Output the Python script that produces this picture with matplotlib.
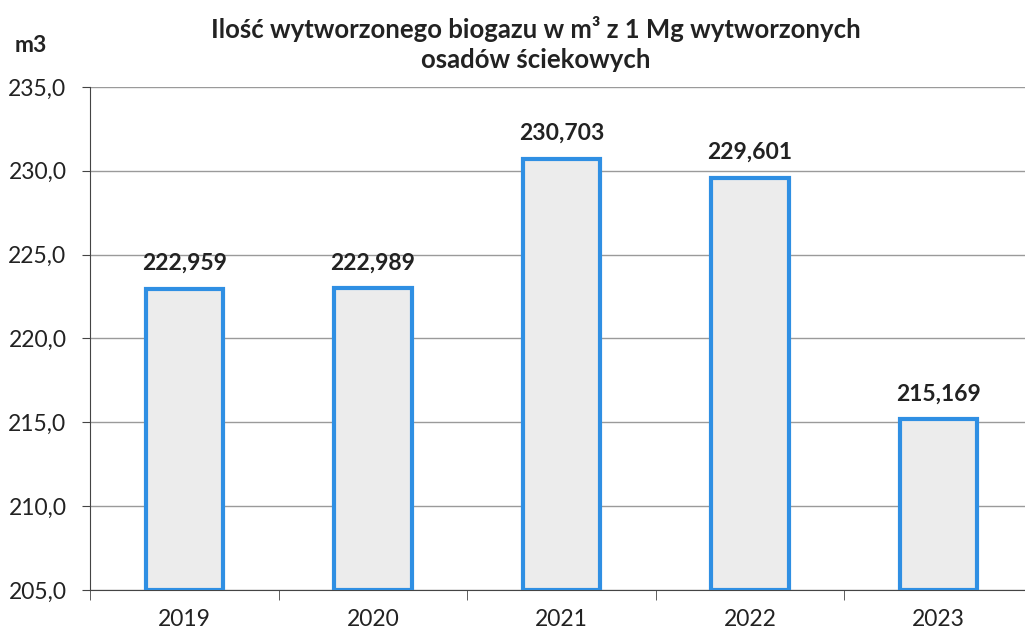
import matplotlib
matplotlib.use("Agg")
import matplotlib.pyplot as plt
from matplotlib.ticker import FixedLocator

years = ["2019", "2020", "2021", "2022", "2023"]
values = [222.959, 222.989, 230.703, 229.601, 215.169]
labels = ["222,959", "222,989", "230,703", "229,601", "215,169"]
yticks = [205.0, 210.0, 215.0, 220.0, 225.0, 230.0, 235.0]

plt.rcParams['font.family'] = ['Lato', 'DejaVu Sans']

fig = plt.figure(figsize=(10.25, 6.34), dpi=100)
ax = fig.add_axes([0.0878, 0.0694, 0.92, 0.7934])

x = list(range(len(years)))
ax.bar(x, [v - 205.0 for v in values], bottom=205.0, width=0.41,
       color='#ececec', edgecolor='#2f8fe3', linewidth=3, zorder=3)
for xi, v, lab in zip(x, values, labels):
    ax.text(xi, v + 0.9, lab, ha='center', va='bottom', fontsize=16.5,
            fontweight='bold', color='#222222')

ax.set_ylim(205, 235)
ax.set_xlim(-0.5, len(years) - 0.5)
ax.set_yticks(yticks)
ax.set_yticklabels([f"{t:.1f}".replace('.', ',') for t in yticks], fontsize=16.5, color='#222222')
ax.set_xticks(x)
ax.set_xticklabels(years, fontsize=16.5, color='#222222')
ax.tick_params(axis='x', which='major', length=0, pad=14)
ax.xaxis.set_minor_locator(FixedLocator([i + 0.5 for i in range(-1, len(years))]))
ax.tick_params(axis='x', which='minor', length=7, direction='out', color='#444444')
ax.tick_params(axis='y', length=6, direction='out', color='#444444', pad=11)
ax.grid(axis='y', color='#9a9a9a', linewidth=1, zorder=0)
for s in ['top', 'right']:
    ax.spines[s].set_visible(False)
ax.spines['left'].set_color('#444444')
ax.spines['bottom'].set_color('#444444')

fig.text(0.523, 0.975, "Ilość wytworzonego biogazu w m³ z 1 Mg wytworzonych\nosadów ściekowych",
         ha='center', va='top', fontsize=18.5, fontweight='bold', color='#222222',
         linespacing=1.3)
fig.text(0.014, 0.928, "m3", ha='left', va='center', fontsize=16.5, fontweight='bold', color='#222222')

fig.savefig("out.png", dpi=100)
